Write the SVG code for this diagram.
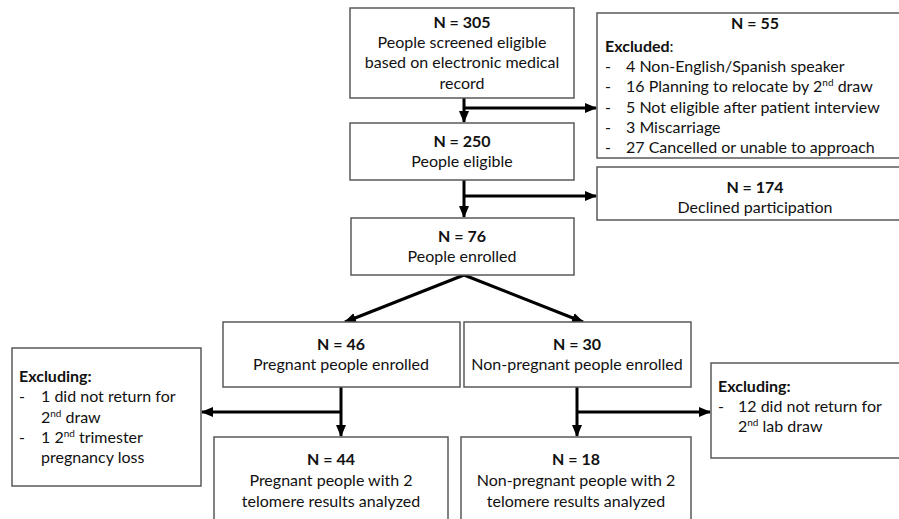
<svg xmlns="http://www.w3.org/2000/svg" width="899" height="519" viewBox="0 0 899 519">
<style>
.box{fill:#fff;stroke:#595959;stroke-width:1.5}
text{font-family:Lato,"Liberation Sans",sans-serif;font-size:16px;fill:#111}
.c{text-anchor:middle}
.b{font-weight:bold}
.sup{font-size:10px}
.ln{fill:none;stroke:#000;stroke-width:3}
</style>
<defs>
<marker id="ah" markerUnits="userSpaceOnUse" markerWidth="12" markerHeight="12" viewBox="0 0 12 12" refX="11" refY="6" orient="auto">
<path d="M0,1 L12,6 L0,11 Z" fill="#000"/>
</marker>
</defs>
<rect width="899" height="519" fill="#fff"/>
<g id="connectors">
<line class="ln" x1="464" y1="98" x2="464" y2="122" marker-end="url(#ah)"/>
<line class="ln" x1="464" y1="108" x2="596" y2="108" marker-end="url(#ah)"/>
<line class="ln" x1="464" y1="180" x2="464" y2="217" marker-end="url(#ah)"/>
<line class="ln" x1="464" y1="196" x2="596" y2="196" marker-end="url(#ah)"/>
<line class="ln" x1="464" y1="275" x2="345" y2="322" marker-end="url(#ah)"/>
<line class="ln" x1="464" y1="275" x2="583" y2="322" marker-end="url(#ah)"/>
<line class="ln" x1="341" y1="387" x2="341" y2="436" marker-end="url(#ah)"/>
<line class="ln" x1="341" y1="412" x2="202" y2="412" marker-end="url(#ah)"/>
<line class="ln" x1="577" y1="387" x2="577" y2="436" marker-end="url(#ah)"/>
<line class="ln" x1="577" y1="412" x2="710" y2="412" marker-end="url(#ah)"/>
</g>
<g id="n305">
<rect class="box" x="350" y="8" width="224" height="90"/>
<text class="c b" x="462" y="28">N = 305</text>
<text class="c" x="462" y="48">People screened eligible</text>
<text class="c" x="462" y="68">based on electronic medical</text>
<text class="c" x="462" y="89">record</text>
</g>
<g id="n55">
<rect class="box" x="597" y="13" width="316" height="145"/>
<text class="c b" x="755" y="29">N = 55</text>
<text x="605" y="52"><tspan class="b">Excluded</tspan>:</text>
<text x="605" y="72">-</text><text x="626" y="72">4 Non-English/Spanish speaker</text>
<text x="605" y="92">-</text><text x="626" y="92">16 Planning to relocate by 2<tspan class="sup" dy="-6">nd</tspan><tspan dy="6"> draw</tspan></text>
<text x="605" y="113">-</text><text x="626" y="113">5 Not eligible after patient interview</text>
<text x="605" y="133">-</text><text x="626" y="133">3 Miscarriage</text>
<text x="605" y="153">-</text><text x="626" y="153">27 Cancelled or unable to approach</text>
</g>
<g id="n250">
<rect class="box" x="350" y="123" width="224" height="57"/>
<text class="c b" x="462" y="147">N = 250</text>
<text class="c" x="462" y="167">People eligible</text>
</g>
<g id="n174">
<rect class="box" x="597" y="167" width="316" height="53"/>
<text class="c b" x="755" y="193">N = 174</text>
<text class="c" x="755" y="213">Declined participation</text>
</g>
<g id="n76">
<rect class="box" x="351" y="218" width="223" height="57"/>
<text class="c b" x="462" y="242">N = 76</text>
<text class="c" x="462" y="262">People enrolled</text>
</g>
<g id="n46">
<rect class="box" x="223" y="322" width="237" height="65"/>
<text class="c b" x="341" y="350">N = 46</text>
<text class="c" x="341" y="370">Pregnant people enrolled</text>
</g>
<g id="n30">
<rect class="box" x="464" y="322" width="227" height="65"/>
<text class="c b" x="577" y="350">N = 30</text>
<text class="c" x="577" y="370">Non-pregnant people enrolled</text>
</g>
<g id="excl-left">
<rect class="box" x="12" y="348" width="189" height="138"/>
<text class="b" x="19" y="382">Excluding:</text>
<text x="19" y="402">-</text><text x="41" y="402">1 did not return for</text>
<text x="41" y="423">2<tspan class="sup" dy="-6">nd</tspan><tspan dy="6"> draw</tspan></text>
<text x="19" y="443">-</text><text x="41" y="443">1 2<tspan class="sup" dy="-6">nd</tspan><tspan dy="6"> trimester</tspan></text>
<text x="41" y="463">pregnancy loss</text>
</g>
<g id="n44">
<rect class="box" x="214" y="437" width="234" height="90"/>
<text class="c b" x="331" y="465">N = 44</text>
<text class="c" x="331" y="486">Pregnant people with 2</text>
<text class="c" x="331" y="507">telomere results analyzed</text>
</g>
<g id="n18">
<rect class="box" x="461" y="437" width="230" height="90"/>
<text class="c b" x="576" y="465">N = 18</text>
<text class="c" x="576" y="486">Non-pregnant people with 2</text>
<text class="c" x="576" y="507">telomere results analyzed</text>
</g>
<g id="excl-right">
<rect class="box" x="711" y="363" width="200" height="95"/>
<text class="b" x="718" y="392">Excluding:</text>
<text x="718" y="412">-</text><text x="738" y="412">12 did not return for</text>
<text x="738" y="432">2<tspan class="sup" dy="-6">nd</tspan><tspan dy="6"> lab draw</tspan></text>
</g>
</svg>
